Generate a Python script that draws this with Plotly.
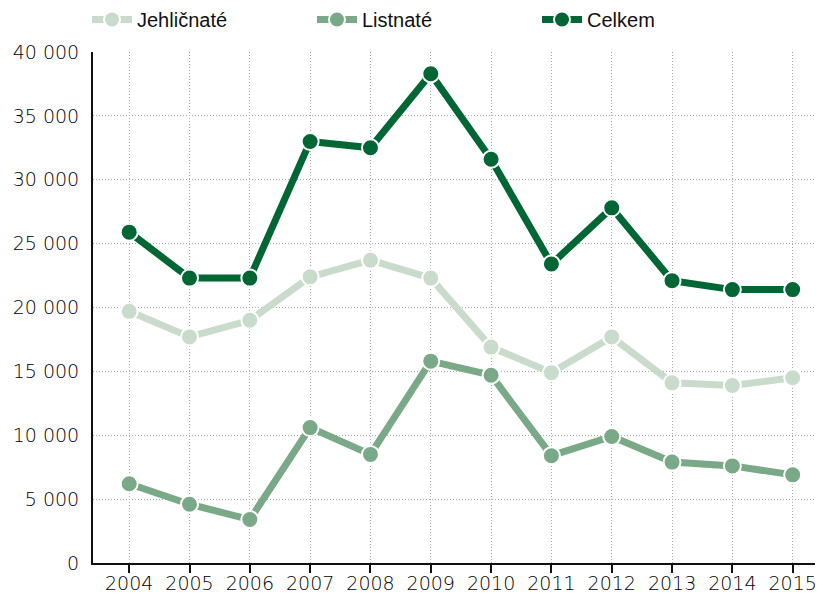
import plotly.graph_objects as go

years = [2004, 2005, 2006, 2007, 2008, 2009, 2010, 2011, 2012, 2013, 2014, 2015]
jehlicnate = [19700, 17700, 19000, 22400, 23700, 22300, 16900, 14900, 17700, 14100, 13900, 14500]
listnate = [6200, 4600, 3400, 10600, 8500, 15800, 14700, 8400, 9900, 7900, 7600, 6900]
celkem = [25900, 22300, 22300, 33000, 32500, 38300, 31600, 23400, 27800, 22100, 21400, 21400]
y_ticks = [0, 5000, 10000, 15000, 20000, 25000, 30000, 35000, 40000]
y_tick_labels = ["0", "5 000", "10 000", "15 000", "20 000", "25 000", "30 000", "35 000", "40 000"]

series = [
    ("Jehličnaté", jehlicnate, "#c9dccb"),
    ("Listnaté", listnate, "#79a986"),
    ("Celkem", celkem, "#006633"),
]

fig = go.Figure()
for name, vals, col in series:
    fig.add_trace(go.Scatter(
        x=years, y=vals, name=name, mode="lines+markers",
        line=dict(color=col, width=7),
        marker=dict(color=col, size=17, line=dict(color="white", width=2)),
    ))

tick_font = dict(family="DejaVu Sans, sans-serif", size=19, weight=300, color="#000")

fig.update_layout(
    width=818, height=595,
    margin=dict(l=93, r=3, t=52, b=32, autoexpand=False),
    plot_bgcolor="white", paper_bgcolor="white",
    font=dict(family="DejaVu Sans, sans-serif", size=18, color="#111"),
    showlegend=True,
    legend=dict(orientation="h", xref="container", yref="container",
                x=87 / 818, y=1 - 0 / 595, xanchor="left", yanchor="top",
                font=dict(family="Liberation Sans Narrow, sans-serif", size=20, color="#111"),
                itemwidth=40, entrywidth=170, bgcolor="rgba(0,0,0,0)"),
    xaxis=dict(range=[2003.4, 2015.37], tickmode="array", tickvals=years,
               ticktext=[str(y) for y in years],
               showgrid=True, gridcolor="#aaaaaa", griddash="1px,2px", gridwidth=1,
               showline=True, linecolor="#111", linewidth=2,
               ticks="outside", ticklen=8, tickwidth=2, tickcolor="#111",
               tickfont=tick_font, zeroline=False, automargin=False,
               ticklabelstandoff=-6),
    yaxis=dict(range=[0, 40000], tickmode="array", tickvals=y_ticks, ticktext=y_tick_labels,
               showgrid=True, gridcolor="#aaaaaa", griddash="1px,2px", gridwidth=1,
               showline=True, linecolor="#111", linewidth=2, ticks="",
               tickfont=tick_font, zeroline=False, ticklabelstandoff=8,
               automargin=False),
)

fig.write_html("out.html", config={"displayModeBar": False},
               post_script="document.body.style.margin='0';document.body.style.overflow='hidden';")
